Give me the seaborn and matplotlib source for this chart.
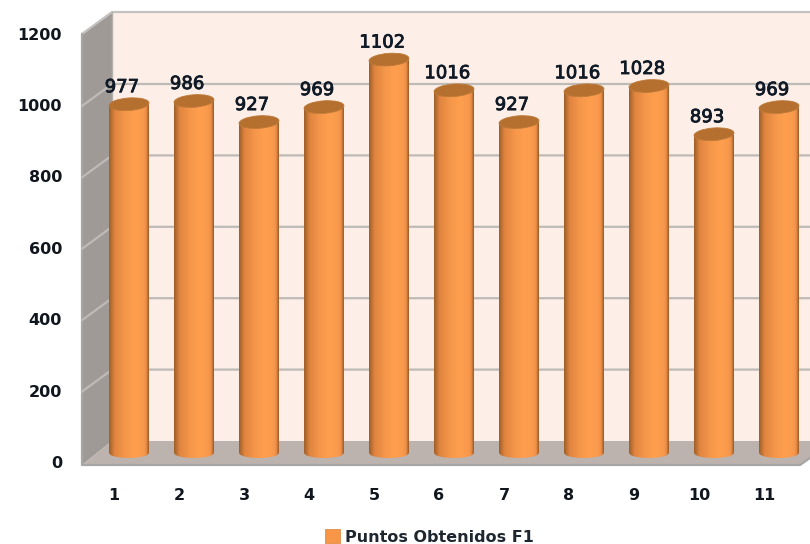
import numpy as np
import matplotlib
matplotlib.use("Agg")
import matplotlib.pyplot as plt
import matplotlib.patheffects as pe
import seaborn as sns
from matplotlib.colors import LinearSegmentedColormap
from matplotlib.patches import Ellipse, Polygon, Rectangle
from matplotlib.path import Path
from matplotlib.transforms import Affine2D

# data
categories = ["1", "2", "3", "4", "5", "6", "7", "8", "9", "10", "11"]
puntos = [977, 986, 927, 969, 1102, 1016, 927, 1016, 1028, 893, 969]
y_ticks = [0, 200, 400, 600, 800, 1000, 1200]
serie = "Puntos Obtenidos F1"

W, H = 810, 544
base_px = 453      # pixel row of value 0 on the bars
scale = 0.357      # pixels per point
x0_px, step_px = 129, 65
back_zero, front_zero = 441, 463   # value 0 on back wall / on tick labels

sns.set_theme(style="white")
plt.rcParams["font.family"] = ["DejaVu Sans"]

fig = plt.figure(figsize=(W / 100, H / 100), dpi=100)
ax = fig.add_axes([0, 0, 1, 1])
px = Affine2D().scale(1, -1).translate(0, H)  # reference pixels to display

# walls of the 3d box
ax.add_patch(Polygon([(112, 12), (810, 12), (810, 441), (112, 441)], transform=px,
                     fc="#FDEEE7", ec="none", zorder=0))
ax.add_patch(Polygon([(82, 34), (112, 12), (112, 441), (82, 465)], transform=px,
                     fc="#A09A96", ec="none", zorder=0))
ax.add_patch(Polygon([(82, 465), (112, 441), (810, 441), (810, 458), (800, 465)], transform=px,
                     fc="#BDB3AE", ec="none", zorder=0))
ax.plot([82, 112, 810], [34, 12, 12], transform=px, color="#C4C2C0", lw=1.6, zorder=1)
ax.plot([82, 82, 800, 810], [34, 465, 465, 458], transform=px, color="#A8A6A4", lw=1.6, zorder=1)
ax.plot([112, 112], [12, 441], transform=px, color="#B4B0AC", lw=1, zorder=1)
for t in y_ticks[1:-1]:
    yb = back_zero - t * scale
    ax.plot([82, 112, 810], [yb + 22, yb, yb], transform=px, color="#BDBAB7", lw=1.6, zorder=1)

df = {"categoria": categories, "puntos": puntos}
sns.barplot(data=df, x="categoria", y="puntos", color="#F79646", width=40 / step_px,
            ax=ax, zorder=2)

cyl = LinearSegmentedColormap.from_list("cyl", ["#A0602A", "#E08540", "#FF9F4E", "#F0924A", "#9E5C28"])
grad = np.interp(np.linspace(0, 1, 80), [0, .14, .4, .65, .84, .94, 1],
                 [0, .25, .42, .5, .6, .78, 1])[None, :]

x_lim = (-x0_px / step_px, (W - x0_px) / step_px)
y_lim = ((base_px - H) / scale, base_px / scale)
ax.set_xlim(x_lim)
ax.set_ylim(y_lim)

for bar, v in zip(ax.containers[0], puntos):
    x, w = bar.get_x(), bar.get_width()
    bar.set_visible(False)
    # body with rounded bottom
    rx = w / 2
    ry = 5 / scale
    xs = np.linspace(x, x + w, 30)
    ys = -ry * np.sqrt(np.clip(1 - ((xs - x - rx) / rx) ** 2, 0, 1))
    verts = [(x, v)] + list(zip(xs, ys)) + [(x + w, v), (x, v)]
    im = ax.imshow(grad, extent=(x, x + w, -ry, v), cmap=cyl, aspect="auto", vmin=0, vmax=1, zorder=3)
    im.set_clip_path(Path(verts), ax.transData)
    ax.set_xlim(x_lim)
    ax.set_ylim(y_lim)
    cx, cy = ax.transData.transform((x + rx, v))
    top = Ellipse((cx, cy), 40, 12.5, angle=4, fc="#B5702F", ec="#BE7A38", lw=0.6, zorder=4,
                  transform=Affine2D())
    ax.add_patch(top)
    lab = ax.annotate(str(v), (x + rx, v), xytext=(-7, 17), textcoords="offset pixels", ha="center",
                      va="center", fontsize=13, color="#0F1A26", zorder=5)
    lab.set_path_effects([pe.withStroke(linewidth=0.6, foreground="#0F1A26")])

ax.set_xlim(x_lim)
ax.set_ylim(y_lim)

# tick labels
ax.set_xticks([])
ax.set_yticks([])
ax.set_xlabel("")
ax.set_ylabel("")
for s in ax.spines.values():
    s.set_visible(False)
for t in y_ticks:
    ax.text(62, front_zero - t * scale + 0.5, str(t), transform=px, ha="right", va="center",
            fontsize=11.5, fontweight="bold", color="#10161E")
for i, c in enumerate(categories):
    ax.text(x0_px - 15 + i * step_px, 495, c, transform=px, ha="center", va="center",
            fontsize=11.5, fontweight="bold", color="#10161E")

# legend
handle = Rectangle((0, 0), 1, 1, fc="#F79646", ec="#D98236", lw=0.5)
ax.legend([handle], [serie], loc="center", bbox_to_anchor=(429 / W, 1 - 537 / H), frameon=False,
          prop={"size": 11.5, "weight": "bold"}, handlelength=0.95, handleheight=0.95, handletextpad=0.3,
          labelcolor="#1E2630", borderpad=0)

fig.savefig("out.png", dpi=100)
